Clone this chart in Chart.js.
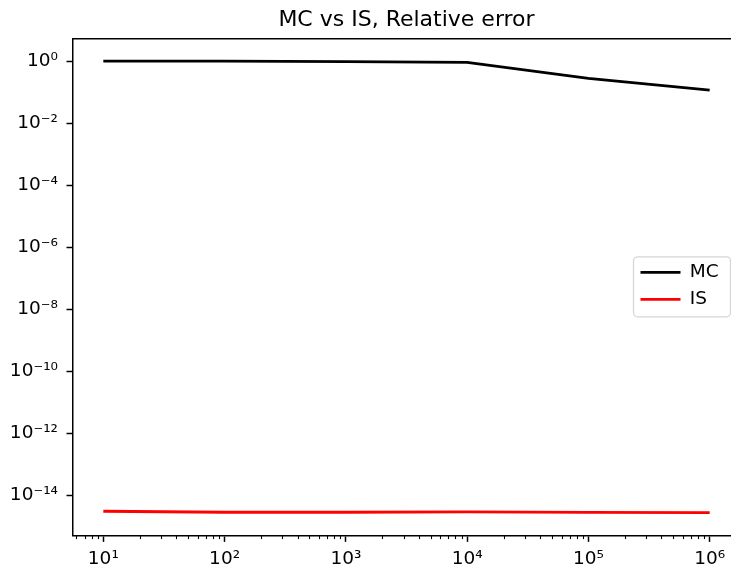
<!DOCTYPE html>
<html><head><meta charset="utf-8">
<script src="https://cdn.jsdelivr.net/npm/chart.js@4/dist/chart.umd.min.js"></script>
<style>html,body{margin:0;padding:0;overflow:hidden;background:#fff}canvas{display:block}</style>
</head><body>
<canvas id="c" width="740" height="567"></canvas>
<script>
const sampleSizes = [10, 100, 1000, 10000, 100000, 1000000];
const mcError = [1.0, 1.0, 0.96, 0.91, 0.277, 0.116];
const isError = [3.15e-15, 2.92e-15, 2.92e-15, 3.0e-15, 2.9e-15, 2.84e-15];
const xTickValues = [1e1, 1e2, 1e3, 1e4, 1e5, 1e6];
const xTickLabels = ['10¹', '10²', '10³', '10⁴', '10⁵', '10⁶'];
const yTickValues = [1e0, 1e-2, 1e-4, 1e-6, 1e-8, 1e-10, 1e-12, 1e-14];
const yTickLabels = ['10⁰', '10⁻²', '10⁻⁴', '10⁻⁶', '10⁻⁸', '10⁻¹⁰', '10⁻¹²', '10⁻¹⁴'];
const seriesLabels = ['MC', 'IS'];
const titleText = 'MC vs IS, Relative error';

const FONT = 'DejaVu Sans';
Chart.defaults.font.family = FONT;
Chart.defaults.color = '#000';

const toPoints = (xs, ys) => xs.map((x, i) => ({x: x, y: ys[i]}));

const decorPlugin = {
  id: 'decor',
  beforeDraw(chart) {
    const ca = chart.chartArea;
    const lg = chart.legend;
    if (lg) {
      lg.left = ca.right - 108;
      lg.right = ca.right;
      lg.top = ca.top + 216.2;
      lg.bottom = ca.bottom;
    }
    const ctx = chart.ctx;
    // legend frame
    const fx = ca.right - 106.5, fy = ca.top + 218.4, fw = 97, fh = 60, r = 4;
    ctx.save();
    ctx.beginPath();
    ctx.moveTo(fx + r, fy);
    ctx.arcTo(fx + fw, fy, fx + fw, fy + fh, r);
    ctx.arcTo(fx + fw, fy + fh, fx, fy + fh, r);
    ctx.arcTo(fx, fy + fh, fx, fy, r);
    ctx.arcTo(fx, fy, fx + fw, fy, r);
    ctx.closePath();
    ctx.fillStyle = 'rgba(255,255,255,0.8)';
    ctx.fill();
    ctx.strokeStyle = '#d6d6d6';
    ctx.lineWidth = 1.3;
    ctx.stroke();
    ctx.restore();
  },
  afterDraw(chart) {
    const s = chart.scales.x;
    const ctx = chart.ctx;
    ctx.save();
    ctx.strokeStyle = '#000';
    ctx.lineWidth = 1.1;
    for (let e = 0; e <= 6; e++) {
      for (let k = 2; k <= 9; k++) {
        const v = k * Math.pow(10, e);
        if (v < s.min || v > s.max) continue;
        const px = Math.round(s.getPixelForValue(v)) + 0.5;
        ctx.beginPath();
        ctx.moveTo(px, s.top);
        ctx.lineTo(px, s.top + 3.7);
        ctx.stroke();
      }
    }
    ctx.restore();
  }
};

new Chart(document.getElementById('c'), {
  type: 'line',
  data: {
    datasets: [
      {label: seriesLabels[0], data: toPoints(sampleSizes, mcError), borderColor: '#000000', backgroundColor: '#000000', borderWidth: 2.8, pointRadius: 0, tension: 0, xAxisID: 'x', yAxisID: 'y'},
      {label: seriesLabels[1], data: toPoints(sampleSizes, isError), borderColor: '#ff0000', backgroundColor: '#ff0000', borderWidth: 2.8, pointRadius: 0, tension: 0, xAxisID: 'x', yAxisID: 'y'}
    ]
  },
  options: {
    responsive: false,
    devicePixelRatio: 1,
    animation: false,
    layout: {padding: 0},
    plugins: {
      title: {
        display: true, text: titleText, fullSize: false,
        font: {family: FONT, size: 22, weight: 'normal'}, color: '#000',
        padding: {top: 7, bottom: 5}
      },
      legend: {
        display: true, position: 'chartArea', align: 'start',
        labels: {
          font: {family: FONT, size: 18.5}, color: '#000',
          usePointStyle: true, pointStyle: 'line', pointStyleWidth: 40,
          boxHeight: 18.5, padding: 8.5
        }
      },
      tooltip: {enabled: false}
    },
    scales: {
      x: {
        type: 'logarithmic', position: 'bottom', bounds: 'data',
        min: Math.pow(10, 0.75), max: Math.pow(10, 6.25),
        afterBuildTicks: s => { s.ticks = xTickValues.map(v => ({value: v})); },
        afterFit: s => { s.height = 31.6; },
        ticks: {
          autoSkip: false, maxRotation: 0, padding: 6,
          font: {family: FONT, size: 18.5}, color: '#000',
          callback: v => { const i = xTickValues.indexOf(v); return i >= 0 ? xTickLabels[i] : ''; }
        },
        grid: {display: true, drawOnChartArea: false, drawTicks: true, tickLength: 6.5, tickWidth: 1.5, tickColor: '#000'},
        border: {display: true, color: '#000', width: 1.5}
      },
      xTop: {
        type: 'linear', position: 'top', display: true, min: 0, max: 1,
        afterFit: s => { s.height = 0; },
        ticks: {display: false},
        grid: {display: true, drawOnChartArea: false, drawTicks: false},
        border: {display: true, color: '#000', width: 1.5}
      },
      y: {
        type: 'logarithmic', position: 'left', bounds: 'data',
        min: Math.pow(10, -15.28), max: Math.pow(10, 0.731),
        afterBuildTicks: s => { s.ticks = yTickValues.map(v => ({value: v})); },
        afterFit: s => { s.width = 73; },
        ticks: {
          autoSkip: false, padding: 8.5,
          font: {family: FONT, size: 18.5}, color: '#000',
          callback: v => { const i = yTickValues.findIndex(t => Math.abs(Math.log10(t) - Math.log10(v)) < 1e-6); return i >= 0 ? yTickLabels[i] : ''; }
        },
        grid: {display: true, drawOnChartArea: false, drawTicks: true, tickLength: 6.5, tickWidth: 1.5, tickColor: '#000'},
        border: {display: true, color: '#000', width: 1.5}
      }
    }
  },
  plugins: [decorPlugin]
});
</script>
</body></html>
